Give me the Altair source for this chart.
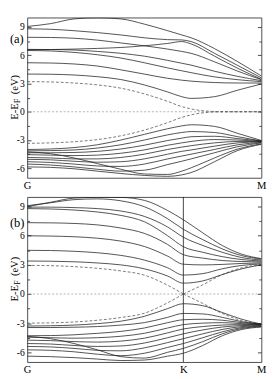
import altair as alt
import pandas as pd

# ---------------- data ----------------
# k-path positions (fraction of path length); panel (a): G-M, panel (b): G-K-M
k_a = [0.0, 0.1, 0.2, 0.3, 0.4, 0.5, 0.6, 0.66, 0.7, 0.8, 0.9, 1.0]
k_b = [0.0, 0.1, 0.2, 0.3, 0.4, 0.5, 0.6, 0.667, 0.75, 0.833, 0.917, 1.0]

# panel (a) conduction bands (solid)
a_c1 = [4.0, 3.98, 3.9, 3.72, 3.42, 2.85, 2.1, 1.6, 1.42, 1.6, 2.3, 2.95]
a_c2 = [5.2, 5.17, 5.07, 4.85, 4.45, 4.0, 3.55, 3.35, 3.25, 3.1, 3.05, 3.05]
a_c3 = [6.5, 6.45, 6.3, 6.05, 5.7, 5.2, 4.65, 4.35, 4.15, 3.7, 3.4, 3.2]
a_c4 = [6.62, 6.6, 6.55, 6.4, 6.2, 5.9, 5.45, 5.15, 4.95, 4.3, 3.75, 3.3]
a_c5 = [6.58, 6.6, 6.65, 6.72, 6.82, 7.0, 7.25, 7.45, 7.2, 5.9, 4.6, 3.45]
a_c6 = [7.9, 7.88, 7.8, 7.6, 7.3, 7.0, 6.65, 6.4, 6.2, 5.3, 4.3, 3.4]
a_c7 = [8.8, 8.75, 8.6, 8.4, 8.15, 7.85, 7.65, 7.62, 7.45, 6.2, 4.9, 3.6]
a_c8 = [9.05, 9.35, 9.85, 9.97, 9.85, 9.3, 8.6, 8.15, 7.85, 6.7, 5.3, 3.8]
# panel (a) valence bands (solid)
a_v1 = [-4.0, -3.95, -3.8, -3.5, -3.0, -2.4, -1.8, -1.5, -1.38, -1.55, -2.3, -3.05]
a_v2 = [-4.15, -4.12, -4.05, -3.85, -3.5, -3.0, -2.45, -2.2, -2.1, -2.2, -2.65, -3.1]
a_v3 = [-4.35, -4.35, -4.32, -4.2, -3.95, -3.55, -3.05, -2.8, -2.65, -2.6, -2.85, -3.1]
a_v4 = [-4.55, -4.6, -4.65, -4.6, -4.4, -4.05, -3.55, -3.3, -3.15, -2.95, -3.0, -3.15]
a_v5 = [-4.85, -4.9, -5.0, -5.0, -4.85, -4.5, -4.0, -3.75, -3.6, -3.3, -3.15, -3.15]
a_v6 = [-5.05, -5.1, -5.25, -5.35, -5.3, -5.0, -4.5, -4.2, -4.05, -3.65, -3.3, -3.2]
a_v7 = [-5.3, -5.38, -5.55, -5.75, -5.8, -5.55, -5.0, -4.7, -4.5, -4.0, -3.5, -3.25]
a_v8 = [-5.55, -5.65, -5.85, -6.1, -6.3, -6.2, -5.6, -5.25, -5.0, -4.35, -3.7, -3.3]
a_v9 = [-4.25, -4.45, -4.9, -5.5, -6.1, -6.6, -6.65, -6.3, -5.95, -4.9, -3.95, -3.4]
a_v10 = [-5.85, -5.9, -6.05, -6.3, -6.55, -6.75, -6.85, -6.7, -6.45, -5.3, -4.1, -3.45]
# panel (a) dashed bands
a_d1 = [3.2, 3.16, 3.05, 2.85, 2.5, 1.9, 1.1, 0.55, 0.3, 0.03, 0.0, 0.0]
a_d2 = [-3.35, -3.3, -3.18, -2.95, -2.55, -1.95, -1.15, -0.6, -0.33, -0.03, 0.0, 0.0]

# panel (b) conduction bands (solid)
b_c1 = [3.4, 3.38, 3.32, 3.2, 3.0, 2.6, 1.85, 1.12, 1.35, 2.0, 2.6, 3.0]
b_c2 = [4.5, 4.48, 4.4, 4.25, 3.98, 3.5, 2.7, 1.95, 2.1, 2.6, 2.95, 3.1]
b_c3 = [6.0, 5.97, 5.9, 5.75, 5.45, 4.9, 3.9, 3.07, 3.0, 3.05, 3.15, 3.2]
b_c4 = [7.35, 7.33, 7.27, 7.12, 6.8, 6.25, 5.1, 4.05, 3.7, 3.45, 3.35, 3.3]
b_c5 = [8.8, 8.76, 8.65, 8.45, 8.1, 7.45, 6.0, 4.87, 4.3, 3.85, 3.55, 3.4]
b_c6 = [8.95, 8.95, 8.9, 8.8, 8.55, 8.0, 6.9, 5.85, 5.0, 4.3, 3.75, 3.5]
b_c7 = [9.1, 9.4, 9.72, 9.8, 9.6, 9.0, 7.75, 6.67, 5.6, 4.65, 3.95, 3.6]
b_c8 = [9.0, 9.45, 9.88, 9.96, 9.95, 9.65, 8.6, 7.65, 6.3, 5.0, 4.1, 3.65]
# panel (b) valence bands (solid)
b_v1 = [-3.3, -3.27, -3.2, -3.05, -2.8, -2.3, -1.5, -1.0, -1.2, -1.9, -2.6, -3.1]
b_v2 = [-3.45, -3.45, -3.42, -3.35, -3.2, -2.95, -2.4, -2.0, -2.05, -2.4, -2.85, -3.1]
b_v3 = [-4.3, -4.28, -4.2, -4.05, -3.85, -3.5, -2.95, -2.65, -2.6, -2.7, -2.95, -3.1]
b_v4 = [-4.45, -4.5, -4.55, -4.5, -4.35, -4.05, -3.5, -3.15, -3.0, -2.95, -3.05, -3.15]
b_v5 = [-4.75, -4.8, -4.9, -4.95, -4.85, -4.55, -4.0, -3.6, -3.35, -3.2, -3.15, -3.15]
b_v6 = [-5.1, -5.15, -5.3, -5.4, -5.35, -5.05, -4.5, -4.1, -3.7, -3.4, -3.25, -3.2]
b_v7 = [-5.4, -5.45, -5.6, -5.8, -5.85, -5.55, -5.0, -4.6, -4.1, -3.65, -3.35, -3.25]
b_v8 = [-5.75, -5.8, -5.95, -6.2, -6.35, -6.1, -5.5, -5.1, -4.5, -3.9, -3.45, -3.3]
b_v9 = [-4.35, -4.6, -5.1, -5.75, -6.45, -6.6, -6.0, -5.6, -4.9, -4.1, -3.55, -3.35]
b_v10 = [-6.4, -6.45, -6.55, -6.7, -6.85, -6.8, -6.4, -6.1, -5.3, -4.3, -3.65, -3.4]
# panel (b) dashed bands (Dirac cone at K)
b_d1 = [2.95, 2.92, 2.82, 2.65, 2.38, 1.95, 0.9, 0.0, 0.95, 2.0, 2.7, 3.05]
b_d2 = [-3.0, -2.97, -2.88, -2.7, -2.42, -1.98, -0.9, 0.0, -0.97, -2.0, -2.75, -3.1]

# axes / labels
y_major = [-6, -3, 0, 3, 6, 9]
y_minor = [-4.5, -1.5, 1.5, 4.5, 7.5]
y_domain = [-7, 10]
fermi = [0.0]
xtick_a = [0.0, 1.0]
xlab_a = ["G", "M"]
xtick_b = [0.0, 0.667, 1.0]
xlab_b = ["G", "K", "M"]
kline_b = [0.667]

FONT = "Liberation Serif"
W = 244
H_A = 167
H_B = 172


def long_df(k, bands, prefix, split_at=None):
    rows = []
    for i, vals in enumerate(bands):
        for kk, e in zip(k, vals):
            if split_at is None:
                rows.append({"k": kk, "E": e, "band": f"{prefix}{i}"})
            else:
                if kk <= split_at + 1e-9:
                    rows.append({"k": kk, "E": e, "band": f"{prefix}{i}L"})
                if kk >= split_at - 1e-9:
                    rows.append({"k": kk, "E": e, "band": f"{prefix}{i}R"})
    return pd.DataFrame(rows)


def label_expr(pos, lab):
    expr = "''"
    for p, l in zip(pos, lab):
        expr = f"abs(datum.value - {p}) < 0.01 ? '{l}' : " + expr
    return expr


one = alt.Data(values=[{"a": 1}])


def text_layer(txt, x, y, size, align="left", angle=0, baseline="middle"):
    return alt.Chart(one).mark_text(
        text=txt, font=FONT, fontSize=size, align=align, angle=angle,
        baseline=baseline, color="black"
    ).encode(x=alt.value(x), y=alt.value(y))


def panel(k, solid, dashed, xpos, xlab, H, tag, tag_y, kline=None, split=None):
    xs = alt.Scale(domain=[0, 1], nice=False, zero=False)
    ys = alt.Scale(domain=y_domain, nice=False, zero=False)

    xaxis = alt.Axis(values=xpos, labelExpr=label_expr(xpos, xlab), ticks=False,
                     tickSize=0, domain=False, grid=False, labelFlush=False,
                     labelFont=FONT, labelFontSize=11, labelColor="black",
                     labelPadding=2, labelAngle=0, title=None)
    ylab = alt.Axis(orient="left", values=y_major, ticks=False, tickSize=0,
                    domain=False, grid=False, labelFont=FONT, labelFontSize=10,
                    labelColor="black", labelPadding=3, title=None,
                    labelExpr="datum.value < 0 ? '-' + abs(datum.value) : '' + datum.value")

    df_s = long_df(k, solid, "s")
    df_d = long_df(k, dashed, "d", split)

    layers = []
    layers.append(
        alt.Chart(pd.DataFrame({"E": fermi})).mark_rule(
            color="#9a9a9a", strokeDash=[2, 2], strokeWidth=0.8
        ).encode(y=alt.Y("E:Q", scale=ys, axis=None))
    )
    if kline is not None:
        layers.append(
            alt.Chart(pd.DataFrame({"k": kline})).mark_rule(
                color="#111", strokeWidth=0.8
            ).encode(x=alt.X("k:Q", scale=xs, axis=None))
        )
    layers.append(
        alt.Chart(df_d).mark_line(
            interpolate="monotone", color="#555", strokeWidth=0.8,
            strokeDash=[3, 2], clip=True
        ).encode(x=alt.X("k:Q", scale=xs, axis=None),
                 y=alt.Y("E:Q", scale=ys, axis=None), detail="band:N")
    )
    layers.append(
        alt.Chart(df_s).mark_line(
            interpolate="monotone", color="#222", strokeWidth=0.8, clip=True
        ).encode(x=alt.X("k:Q", scale=xs, axis=xaxis),
                 y=alt.Y("E:Q", scale=ys, axis=ylab), detail="band:N")
    )
    # inward ticks on both sides (major + minor)
    tick_df = pd.DataFrame({"E": y_major + y_minor})
    for orient, vals, size in [("right", y_major, 4), ("right", y_minor, 2.5),
                               ("left", y_major, 4), ("left", y_minor, 2.5)]:
        layers.append(
            alt.Chart(tick_df).mark_point(opacity=0).encode(
                y=alt.Y("E:Q", scale=ys, axis=alt.Axis(
                    orient=orient, offset=-W, values=vals, ticks=True,
                    tickSize=size, tickWidth=1, tickColor="#444", labels=False,
                    domain=False, grid=False, title=None))
            )
        )
    # y title "E-E_F (eV)" built from pieces
    y0 = H / 2 + 23
    layers.append(text_layer("E-E", -13, y0, 11, angle=270))
    layers.append(text_layer("F", -10, y0 - 17.4, 8, angle=270))
    layers.append(text_layer("(eV)", -13, y0 - 26.5, 11, angle=270))
    layers.append(text_layer(tag, -18, tag_y, 13))

    return alt.layer(*layers).properties(width=W, height=H).resolve_axis(
        x="independent", y="independent")


solid_a = [a_c1, a_c2, a_c3, a_c4, a_c5, a_c6, a_c7, a_c8,
           a_v1, a_v2, a_v3, a_v4, a_v5, a_v6, a_v7, a_v8, a_v9, a_v10]
dashed_a = [a_d1, a_d2]
solid_b = [b_c1, b_c2, b_c3, b_c4, b_c5, b_c6, b_c7, b_c8,
           b_v1, b_v2, b_v3, b_v4, b_v5, b_v6, b_v7, b_v8, b_v9, b_v10]
dashed_b = [b_d1, b_d2]

pa = panel(k_a, solid_a, dashed_a, xtick_a, xlab_a, H_A, "(a)", 23)
pb = panel(k_b, solid_b, dashed_b, xtick_b, xlab_b, H_B, "(b)", 27,
           kline=kline_b, split=kline_b[0])

chart = alt.vconcat(pa, pb, spacing=5).properties(
    padding={"left": 0, "top": 1, "right": 2, "bottom": 0}
).configure_view(stroke="#4a4a4a", strokeWidth=1)

chart.save("out.html", embed_options={"renderer": "svg", "actions": False})
